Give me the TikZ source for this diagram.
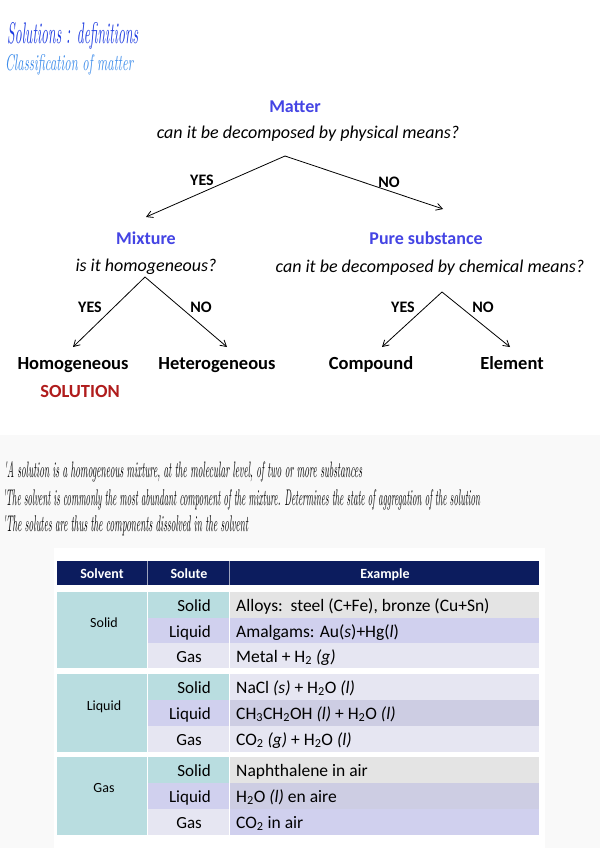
\documentclass[tikz,border=0pt]{standalone}
\usepackage{fontspec}
\setmainfont{Carlito}
\newfontfamily\handfont{Latin Modern Roman}
\usetikzlibrary{arrows.meta}
\definecolor{navy}{RGB}{12,28,94}
\definecolor{tealc}{RGB}{185,221,224}
\definecolor{greyc}{RGB}{228,228,228}
\definecolor{lav}{RGB}{208,208,238}
\definecolor{lavlt}{RGB}{230,230,242}
\definecolor{lavgr}{RGB}{205,205,227}
\definecolor{bgg}{RGB}{249,249,249}
\definecolor{qblue}{RGB}{68,68,228}
\definecolor{solred}{RGB}{176,28,28}
\definecolor{hblue}{RGB}{30,60,225}
\definecolor{hbluelt}{RGB}{60,140,235}
\newcommand{\hwtext}[3]{\resizebox{#1}{#2}{\handfont\itshape #3}}
\begin{document}
\begin{tikzpicture}[x=1pt,y=-1pt,
  qhead/.style={font=\bfseries\fontsize{18}{20}\selectfont, text=qblue, anchor=base, inner sep=0pt},
  qtext/.style={font=\itshape\fontsize{18}{20}\selectfont, anchor=base, inner sep=0pt},
  yn/.style={font=\bfseries\fontsize{16}{18}\selectfont, anchor=base, inner sep=0pt},
  leaf/.style={font=\bfseries\fontsize{18.5}{20}\selectfont, anchor=base, inner sep=0pt},
  arr/.style={-{Straight Barb[length=6pt,width=7pt]}, line width=0.8pt},
  hw/.style={anchor=base west, inner sep=0pt},
  th/.style={font=\bfseries\fontsize{14}{16}\selectfont, text=white, anchor=base, inner sep=0pt},
  tsolv/.style={font=\fontsize{14}{16}\selectfont, anchor=base, inner sep=0pt},
  tsolu/.style={font=\fontsize{17}{19}\selectfont, anchor=base east, inner sep=0pt},
  tex/.style={font=\fontsize{17.5}{19}\selectfont, anchor=base west, inner sep=0pt}
]
\useasboundingbox (0,0) rectangle (600,848);
\fill[white] (0,0) rectangle (600,435);
\fill[bgg] (0,435) rectangle (600,848);
\fill[white] (54,548) rectangle (545,848);

% handwritten titles
\node[hw, text=hblue] (title) at (7,44) {\hwtext{131pt}{21pt}{Solutions : definitions}};
\node[hw, text=hbluelt] (subtitle) at (5,71) {\hwtext{128pt}{16pt}{Classification of matter}};

% tree
\node[qhead] (matter) at (295,113) {Matter};
\node[qtext] (q1) at (308,139) {can it be decomposed by physical means?};
\coordinate (apex1) at (285,156);
\coordinate (mixend) at (146,217);
\coordinate (pureend) at (443,209);
\draw[arr] (apex1) -- (mixend);
\draw[arr] (apex1) -- (pureend);
\node[yn] (yes1) at (202,185) {YES};
\node[yn] (no1) at (389,187) {NO};

\node[qhead] (mixture) at (146,244) {Mixture};
\node[qtext] (q2) at (146,271) {is it homogeneous?};
\coordinate (apex2) at (145,277);
\coordinate (homend) at (73,347);
\coordinate (hetend) at (227,347);
\draw[arr] (apex2) -- (homend);
\draw[arr] (apex2) -- (hetend);
\node[yn] (yes2) at (90,312) {YES};
\node[yn] (no2) at (201,312) {NO};
\node[leaf] (homog) at (73,369) {Homogeneous};
\node[leaf] (heterog) at (217,369) {Heterogeneous};
\node[leaf, text=solred] (solution) at (80,397) {SOLUTION};

\node[qhead] (pure) at (426,244) {Pure substance};
\node[qtext] (q3) at (430,272) {can it be decomposed by chemical means?};
\coordinate (apex3) at (442,292);
\coordinate (compend) at (382,347);
\coordinate (elemend) at (510,347);
\draw[arr] (apex3) -- (compend);
\draw[arr] (apex3) -- (elemend);
\node[yn] (yes3) at (403,312) {YES};
\node[yn] (no3) at (483,312) {NO};
\node[leaf] (compound) at (371,369) {Compound};
\node[leaf] (element) at (512,369) {Element};

% handwritten bullets
\node[hw] (b1) at (4,477) {\hwtext{358pt}{16pt}{'A solution is a homogeneous mixture, at the molecular level, of two or more substances}};
\node[hw] (b2) at (3,505) {\hwtext{477pt}{16pt}{'The solvent is commonly the most abundant component of the mixture. Determines the state of aggregation of the solution}};
\node[hw] (b3) at (3,531) {\hwtext{245pt}{16pt}{'The solutes are thus the components dissolved in the solvent}};

% table header
\fill[navy] (57,561) rectangle (539,585);
\draw[white!60!navy, line width=0.8pt] (147.5,561) -- (147.5,585) (229.5,561) -- (229.5,585);
\node[th] (hsolv) at (102,578) {Solvent};
\node[th] (hsolu) at (189,578) {Solute};
\node[th] (hex) at (385,578) {Example};

% group 1
\fill[tealc] (57,592) rectangle (147,668);
\fill[tealc] (148,592) rectangle (229,618);
\fill[lav] (148,618) rectangle (229,643);
\fill[lavlt] (148,643) rectangle (229,668);
\fill[greyc] (230,592) rectangle (539,618);
\fill[lav] (230,618) rectangle (539,643);
\fill[lavlt] (230,643) rectangle (539,668);
% group 2
\fill[tealc] (57,674) rectangle (147,752);
\fill[tealc] (148,674) rectangle (229,700);
\fill[lav] (148,700) rectangle (229,726);
\fill[lavlt] (148,726) rectangle (229,752);
\fill[lavlt] (230,674) rectangle (539,700);
\fill[lavgr] (230,700) rectangle (539,726);
\fill[lavlt] (230,726) rectangle (539,752);
% group 3
\fill[tealc] (57,757) rectangle (147,835);
\fill[tealc] (148,757) rectangle (229,783);
\fill[lav] (148,783) rectangle (229,809);
\fill[lavlt] (148,809) rectangle (229,835);
\fill[greyc] (230,757) rectangle (539,783);
\fill[lavgr] (230,783) rectangle (539,809);
\fill[lav] (230,809) rectangle (539,835);

% solvent labels
\node[tsolv] (sv1) at (104,627) {Solid};
\node[tsolv] (sv2) at (104,710) {Liquid};
\node[tsolv] (sv3) at (104,792) {Gas};

% solute labels
\node[tsolu] (s11) at (211,611) {Solid};
\node[tsolu] (s12) at (211,637) {Liquid};
\node[tsolu] (s13) at (202,662) {Gas};
\node[tsolu] (s21) at (211,693) {Solid};
\node[tsolu] (s22) at (211,719) {Liquid};
\node[tsolu] (s23) at (202,745) {Gas};
\node[tsolu] (s31) at (211,776) {Solid};
\node[tsolu] (s32) at (211,802) {Liquid};
\node[tsolu] (s33) at (202,828) {Gas};

% examples
\node[tex] (e11) at (236,611) {Alloys:\ \ steel (C+Fe), bronze (Cu+Sn)};
\node[tex] (e12) at (236,637) {Amalgams: Au(\textit{s})+Hg(\textit{l})};
\node[tex] (e13) at (236,662) {Metal + H\textsubscript{2} \textit{(g)}};
\node[tex] (e21) at (236,693) {NaCl \textit{(s)} + H\textsubscript{2}O \textit{(l)}};
\node[tex] (e22) at (236,719) {CH\textsubscript{3}CH\textsubscript{2}OH \textit{(l)} + H\textsubscript{2}O \textit{(l)}};
\node[tex] (e23) at (236,745) {CO\textsubscript{2} \textit{(g)} + H\textsubscript{2}O \textit{(l)}};
\node[tex] (e31) at (236,776) {Naphthalene in air};
\node[tex] (e32) at (236,802) {H\textsubscript{2}O \textit{(l)} en aire};
\node[tex] (e33) at (236,828) {CO\textsubscript{2} in air};
\end{tikzpicture}
\end{document}
